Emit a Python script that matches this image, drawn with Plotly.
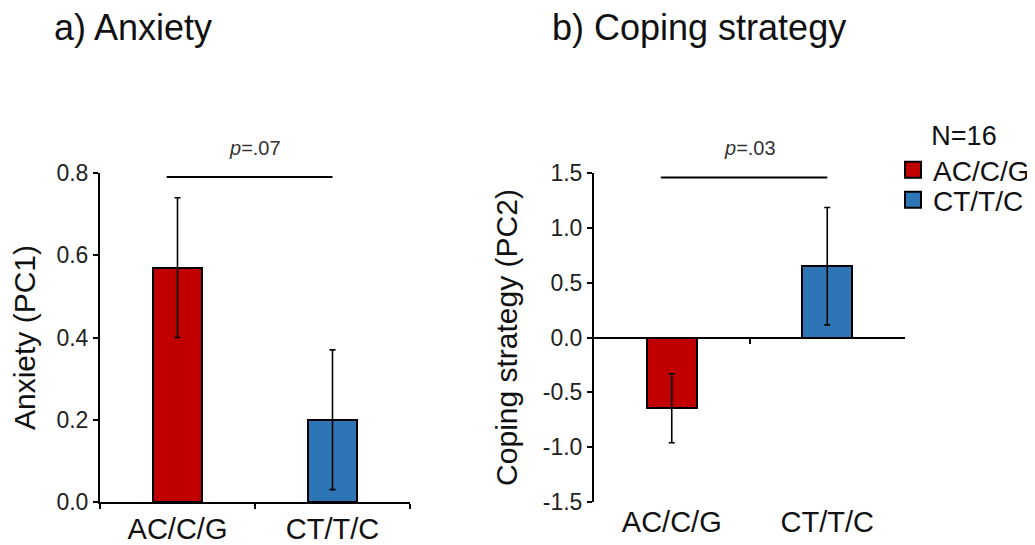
import plotly.graph_objects as go

# ---- data ----
categories = ["AC/C/G", "CT/T/C"]
anxiety_mean = [0.57, 0.20]
anxiety_err = [0.17, 0.17]
coping_mean = [-0.645, 0.65]
coping_err = [0.315, 0.535]
colors = ["#c00000", "#2e75b6"]
anx_ticks = [0.0, 0.2, 0.4, 0.6, 0.8]
anx_ticktext = ["0.0", "0.2", "0.4", "0.6", "0.8"]
cop_ticks = [-1.5, -1.0, -0.5, 0.0, 0.5, 1.0, 1.5]
cop_ticktext = ["-1.5", "-1.0", "-0.5", "0.0", "0.5", "1.0", "1.5"]
p_text = ["<i>p</i>=.07", "<i>p</i>=.03"]
sig_y = [0.79, 1.46]
sig_x = [-0.07, 1.0]
legend_title = "N=16"

# page has an 8px body margin; figure sized so it fills the rest of the window
OFF = 8
W, H = 1035 - OFF, 545 - OFF
FONT = "Arial, Liberation Sans, sans-serif"
xpos = list(range(len(categories)))


def px_x(p):
    return (p - OFF) / W


def px_y(p):
    return (H - (p - OFF)) / H


dom_a = [px_x(100), px_x(410)]
dom_b = [px_x(594), px_x(905)]
dom_y = [px_y(502), px_y(173)]

fig = go.Figure()

for i, cat in enumerate(categories):
    fig.add_trace(go.Bar(
        x=[xpos[i]], y=[anxiety_mean[i]], width=0.32,
        marker=dict(color=colors[i], line=dict(color="black", width=2)),
        error_y=dict(type="data", array=[anxiety_err[i]], color="black", thickness=1.6, width=3),
        xaxis="x", yaxis="y", showlegend=False))
    fig.add_trace(go.Bar(
        x=[xpos[i]], y=[coping_mean[i]], width=0.32,
        marker=dict(color=colors[i], line=dict(color="black", width=2)),
        error_y=dict(type="data", array=[coping_err[i]], color="black", thickness=1.6, width=3),
        xaxis="x2", yaxis="y2", showlegend=False))
    # legend entry (each in its own legend box so the rows sit close together)
    fig.add_trace(go.Scatter(
        x=[None], y=[None], mode="markers", name=cat,
        marker=dict(symbol="square", size=16, color=colors[i], line=dict(color="black", width=2)),
        xaxis="x2", yaxis="y2", showlegend=True,
        legend="legend" if i == 0 else "legend2"))

# dummy trace to make xaxis3 (the zero line with its middle tick) exist
fig.add_trace(go.Scatter(x=[None], y=[None], xaxis="x3", yaxis="y2", showlegend=False))

axis_font = dict(family=FONT, size=23, color="#222")
cat_font = dict(family=FONT, size=29, color="#111")
title_font = dict(family=FONT, size=30, color="#111")
leg_font = dict(family=FONT, size=28, color="#111")

common_x = dict(range=[-0.5, 1.5], tickmode="array", tickvals=xpos, ticktext=categories,
                ticks="", tickfont=cat_font, showgrid=False, zeroline=False,
                automargin=False, fixedrange=True)
common_y = dict(tickmode="array", ticks="outside", ticklen=5, tickwidth=2, tickcolor="black",
                showline=True, linecolor="black", linewidth=2, showgrid=False, zeroline=False,
                tickfont=axis_font, automargin=False)

fig.update_layout(
    width=W, height=H, template="none",
    paper_bgcolor="white", plot_bgcolor="white",
    margin=dict(l=0, r=0, t=0, b=0),
    font=dict(family=FONT, color="#111"),
    bargap=0,
    xaxis=dict(domain=dom_a, anchor="y", showline=True, linecolor="black", linewidth=2,
               minor=dict(tickmode="array", tickvals=[-0.5, 0.5, 1.5], ticks="outside",
                          ticklen=5, tickwidth=2, tickcolor="black"),
               **common_x),
    yaxis=dict(domain=dom_y, anchor="x", range=[0, 0.8], tickvals=anx_ticks, ticktext=anx_ticktext,
               title=dict(text="Anxiety (PC1)", font=title_font, standoff=16), **common_y),
    xaxis2=dict(domain=dom_b, anchor="y2", showline=False, **common_x),
    xaxis3=dict(overlaying="x2", anchor="free", position=(dom_y[0] + dom_y[1]) / 2,
                range=[-0.5, 1.5], showline=True, linecolor="black", linewidth=2,
                showticklabels=False, ticks="", showgrid=False, zeroline=False,
                tickmode="array", tickvals=[],
                minor=dict(tickmode="array", tickvals=[0.5], ticks="outside",
                           ticklen=5, tickwidth=2, tickcolor="black")),
    yaxis2=dict(domain=dom_y, anchor="x2", range=[-1.5, 1.5], tickvals=cop_ticks, ticktext=cop_ticktext,
                title=dict(text="Coping strategy (PC2)", font=title_font, standoff=16), **common_y),
    legend=dict(x=px_x(893), y=px_y(110), xanchor="left", yanchor="top", font=leg_font,
                title=dict(text=legend_title, side="top center", font=dict(family=FONT, size=27, color="#111")),
                bgcolor="rgba(0,0,0,0)", itemsizing="trace"),
    legend2=dict(x=px_x(893), y=px_y(175), xanchor="left", yanchor="top", font=leg_font,
                 bgcolor="rgba(0,0,0,0)", itemsizing="trace"),
)

# significance lines and p-values
for k, (xr, yr) in enumerate([("x", "y"), ("x2", "y2")]):
    fig.add_shape(type="line", xref=xr, yref=yr, x0=sig_x[0], x1=sig_x[1], y0=sig_y[k], y1=sig_y[k],
                  line=dict(color="black", width=2))
    fig.add_annotation(xref=xr, yref=yr, x=0.5, y=sig_y[k], text=p_text[k], showarrow=False,
                       yanchor="bottom", yshift=16, font=dict(family=FONT, size=20, color="#333"))

# panel titles
for xp, txt in [(52, "a) Anxiety"), (550, "b) Coping strategy")]:
    fig.add_annotation(xref="paper", yref="paper", x=px_x(xp), y=1, xanchor="left", yanchor="top",
                       yshift=3, text=txt, showarrow=False, font=dict(family=FONT, size=36, color="#111"))

fig.write_html("out.html")
